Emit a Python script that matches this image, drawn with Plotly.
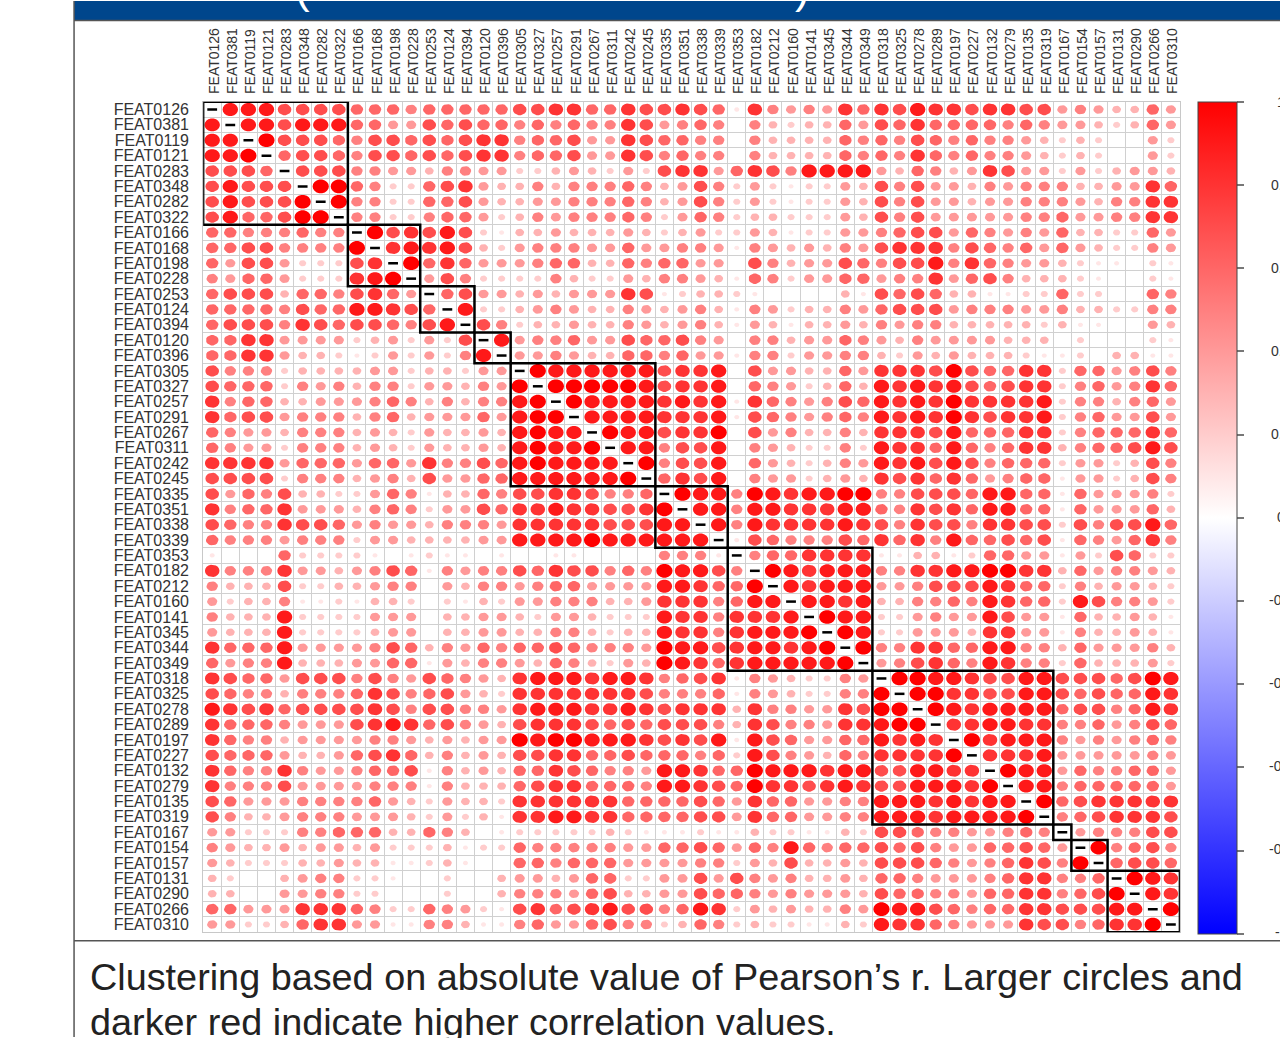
import math
import plotly.graph_objects as go

features = ["FEAT0126","FEAT0381","FEAT0119","FEAT0121","FEAT0283","FEAT0348","FEAT0282","FEAT0322",
            "FEAT0166","FEAT0168","FEAT0198","FEAT0228","FEAT0253","FEAT0124","FEAT0394","FEAT0120","FEAT0396",
            "FEAT0305","FEAT0327","FEAT0257","FEAT0291","FEAT0267","FEAT0311","FEAT0242","FEAT0245",
            "FEAT0335","FEAT0351","FEAT0338","FEAT0339","FEAT0353","FEAT0182","FEAT0212","FEAT0160",
            "FEAT0141","FEAT0345","FEAT0344","FEAT0349","FEAT0318","FEAT0325","FEAT0278","FEAT0289",
            "FEAT0197","FEAT0227","FEAT0132","FEAT0279","FEAT0135","FEAT0319","FEAT0167","FEAT0154",
            "FEAT0157","FEAT0131","FEAT0290","FEAT0266","FEAT0310"]

# Upper triangle of the correlation matrix, in tenths (X = 1.0).
# Each row starts just right of the diagonal; spaces only mark the cluster boundaries.
upper_tenths = [
 "9997777 6665 666 66 77886687 7876 18545486 8798878877 4 54 3364",
 "997999 6644 767 66 56565587 4565 05323364 7686666565 4 43 2364",
 "X7776 5776 767 88 56674487 6655 05333365 6576565543 2 32 0042",
 "6776 5776 767 88 56674487 5655 05333365 6586565543 2 32 0042",
 "777 5544 355 44 22343242 7884 68759999 4365348744 2 42 3443",
 "XX 6522 678 43 35355565 3475 24212243 7574435455 5 33 4486",
 "X 5522 667 43 34455565 3475 24212243 7574434455 5 43 5588",
 "5522 566 42 35455565 2465 23322243 7574444455 6 44 5588",
 "X78 797 21 33433343 2342 24312244 5677465454 6 33 2264",
 "89 897 32 45554464 4554 15434354 7888576564 6 43 2254",
 "X 686 44 45663365 6644 07534476 5779586544 3 21 1021",
 "475 22 22532243 5543 16524466 4558467533 3 21 0021",
 "67 44 34344487 1233 21000031 7676331122 6 22 0065",
 "9 22 34543354 3453 15423354 6777455544 5 33 2255",
 "75 23343354 3453 14313343 5455333332 3 11 0043",
 "9 45564476 6754 05534465 4354444333 0 20 0021",
 "44543366 5644 15524455 3243433321 1 20 3311",
 "X999999 7889 07443364 8887X76688 2 66 4575",
 "XXXXX9 7889 06542363 9898976788 2 56 4586",
 "X9999 8989 18654576 9898X88889 2 55 3564",
 "9999 8889 17654565 9898X87889 2 56 4474",
 "X99 788X 07453353 8887966688 2 56 6686",
 "99 5779 05432252 9886965688 3 56 6797",
 "X 5779 06432354 9897975666 2 44 2375",
 "6879 05442343 8786864566 1 44 2375",
 "X99 5X9899XX 5577769966 1 64 4452",
 "99 59988899 6587869966 1 64 4463",
 "9 59888898 7587758877 2 75 7796",
 "17655576 8685966767 1 65 4685",
 "5668888 1133126644 1 42 7622",
 "X98999 558899XX88 3 64 5543",
 "98999 4457779866 2 53 4432",
 "9989 3355659866 2 97 5542",
 "X99 2245449744 1 63 3431",
 "X9 2244438844 1 53 3431",
 "X 5588669955 3 64 4453",
 "4578659855 2 63 3342",
 "XX9987799 7 77 67X9",
 "XX887799 7 67 6698",
 "X989999 6 77 5698",
 "889988 5 56 4576",
 "X8999 5 45 4565",
 "8889 4 44 4454",
 "X99 4 65 5664",
 "99 5 66 6664",
 "X 6 78 8888",
 "5 67 8887",
 "45 5577",
 "X 5675",
 "6776",
 "X98",
 "98",
 "X",
 "",
]
cluster_sizes = [8, 4, 3, 2, 8, 4, 8, 10, 1, 2, 4]
scale_ticks = [1, 0.8, 0.6, 0.4, 0.2, 0, -0.2, -0.4, -0.6, -0.8, -1]
scale_labels = ["1", "0.8", "0.6", "0.4", "0.2", "0", "-0.2", "-0.4", "-0.6", "-0.8", "-1"]
caption_lines = ["Clustering based on absolute value of Pearson’s r. Larger circles and",
                 "darker red indicate higher correlation values."]

W, H = 1280, 1038
LABEL_SHIFT = 2     # shifting the tick labels reserves this much on the right of the plot area
WP = W - LABEL_SHIFT  # width that paper fractions refer to
PL, PR, PT, PB = 203, 1179, 101, 933
n = len(features)

matrix = [[None] * n for _ in range(n)]
for i, row in enumerate(upper_tenths):
    cells = row.replace(" ", "")
    assert len(cells) == n - 1 - i, (i, len(cells), n - 1 - i)
    for k, ch in enumerate(cells):
        v = 10 if ch == "X" else int(ch)
        j = i + 1 + k
        matrix[i][j] = v
        matrix[j][i] = v

fig = go.Figure()
angles = [2 * math.pi * a / 18 for a in range(19)]
for level in range(1, 11):
    r = level / 10
    rad = 0.45 * math.sqrt(r)
    xs, ys = [], []
    for i in range(n):
        for j in range(n):
            if matrix[i][j] == level:
                xs += [j + 1 + rad * math.cos(a) for a in angles] + [None]
                ys += [i + 1 + rad * math.sin(a) for a in angles] + [None]
    g = round(255 * (1 - r))
    fig.add_trace(go.Scatter(x=xs, y=ys, mode="lines", fill="toself", line=dict(width=0),
                             fillcolor=f"rgb(255,{g},{g})", hoverinfo="skip", showlegend=False))

# Diagonal dashes
fig.add_trace(go.Scatter(x=list(range(1, n + 1)), y=list(range(1, n + 1)), mode="markers",
                         marker=dict(symbol="line-ew", size=7, line=dict(width=2.5, color="black")),
                         hoverinfo="skip", showlegend=False))

# Invisible points carrying the colour scale and hover values
hx, hy, hc = [], [], []
for i in range(n):
    for j in range(n):
        if matrix[i][j] is not None:
            hx.append(j + 1); hy.append(i + 1); hc.append(matrix[i][j] / 10)
fig.add_trace(go.Scatter(x=hx, y=hy, mode="markers", showlegend=False,
    marker=dict(size=10, opacity=0, color=hc, cmin=-1, cmax=1,
                colorscale=[[0, "rgb(0,0,255)"], [0.5, "rgb(255,255,255)"], [1, "rgb(255,0,0)"]],
                showscale=True,
                colorbar=dict(x=1197 / WP, xanchor="left", xpad=0, y=1 - PT / H, yanchor="top", ypad=0,
                              len=PB - PT, lenmode="pixels", thickness=39, thicknessmode="pixels",
                              outlinewidth=1, outlinecolor="#444", tickmode="array", tickvals=scale_ticks,
                              ticks="outside", ticklen=7, tickcolor="#777", tickwidth=1.5,
                              showticklabels=False))))

shapes = []
# Slide furniture
shapes.append(dict(type="rect", xref="paper", yref="paper", x0=74 / WP, x1=W / WP, y0=1 - 19 / H, y1=1,
                   fillcolor="#00468C", line=dict(width=0), layer="below"))
for seg in [(74, 19.5, 1280, 19.5), (74, 941.5, 1280, 941.5), (74, 0, 74, 1038)]:
    shapes.append(dict(type="line", xref="paper", yref="paper", x0=seg[0] / WP, x1=seg[2] / WP,
                       y0=1 - seg[1] / H, y1=1 - seg[3] / H, line=dict(color="#555", width=1.5)))
# Cluster rectangles
start = 0.5
for size in cluster_sizes:
    shapes.append(dict(type="rect", xref="x", yref="y", x0=start, x1=start + size, y0=start, y1=start + size,
                       line=dict(color="black", width=2.5), fillcolor="rgba(0,0,0,0)", layer="above"))
    start += size

annotations = []
for v, lab in zip(scale_ticks, scale_labels):
    annotations.append(dict(text=lab, xref="paper", yref="paper", x=1280 / WP, xanchor="center", showarrow=False,
                            y=1 - (PT + (1 - v) / 2 * (PB - PT)) / H, yanchor="middle",
                            font=dict(family="Liberation Sans", size=14, color="#333")))
for text, yc in zip(caption_lines, [978, 1023]):
    annotations.append(dict(text=text, xref="paper", yref="paper", x=88 / WP, xanchor="left", showarrow=False,
                            y=1 - yc / H, yanchor="middle",
                            font=dict(family="Liberation Sans", size=37.8, color="#222")))
for ch, xc in [("(", 302), (")", 802)]:
    annotations.append(dict(text=ch, xref="paper", yref="paper", x=xc / WP, xanchor="center", showarrow=False,
                            y=1 - 12 / H, yanchor="bottom", borderpad=0,
                            font=dict(family="Liberation Sans", size=44, color="white")))

half_ticks = [k + 0.5 for k in range(n + 1)]
ax_common = dict(tickmode="array", tickvals=list(range(1, n + 1)), ticktext=features, showgrid=False,
                 zeroline=False, showline=True, mirror=True, linecolor="#c8c8c8", linewidth=1,
                 ticks="outside", tickcolor="rgba(0,0,0,0)",
                 minor=dict(tickmode="array", tickvals=half_ticks, showgrid=True, gridcolor="#d0d0d0",
                            gridwidth=1, ticks=""))
fig.update_layout(
    width=W, height=H, autosize=False, margin=dict(l=0, r=0, t=0, b=0),
    paper_bgcolor="white", plot_bgcolor="white", showlegend=False,
    xaxis=dict(domain=[PL / WP, PR / WP], range=[0.5, n + 0.5], side="top", tickangle=-90, ticklen=4,
               ticklabelshift=LABEL_SHIFT,
               tickfont=dict(family="Liberation Sans", size=14, color="#333"), **ax_common),
    yaxis=dict(domain=[1 - PB / H, 1 - PT / H], range=[n + 0.5, 0.5], ticklen=10,
               tickfont=dict(family="Liberation Sans", size=16, color="#333"), **ax_common),
    shapes=shapes, annotations=annotations,
)
fig.write_html("out.html", config=dict(displayModeBar=False),
               post_script="document.body.style.margin='0';document.body.style.overflow='hidden';")
